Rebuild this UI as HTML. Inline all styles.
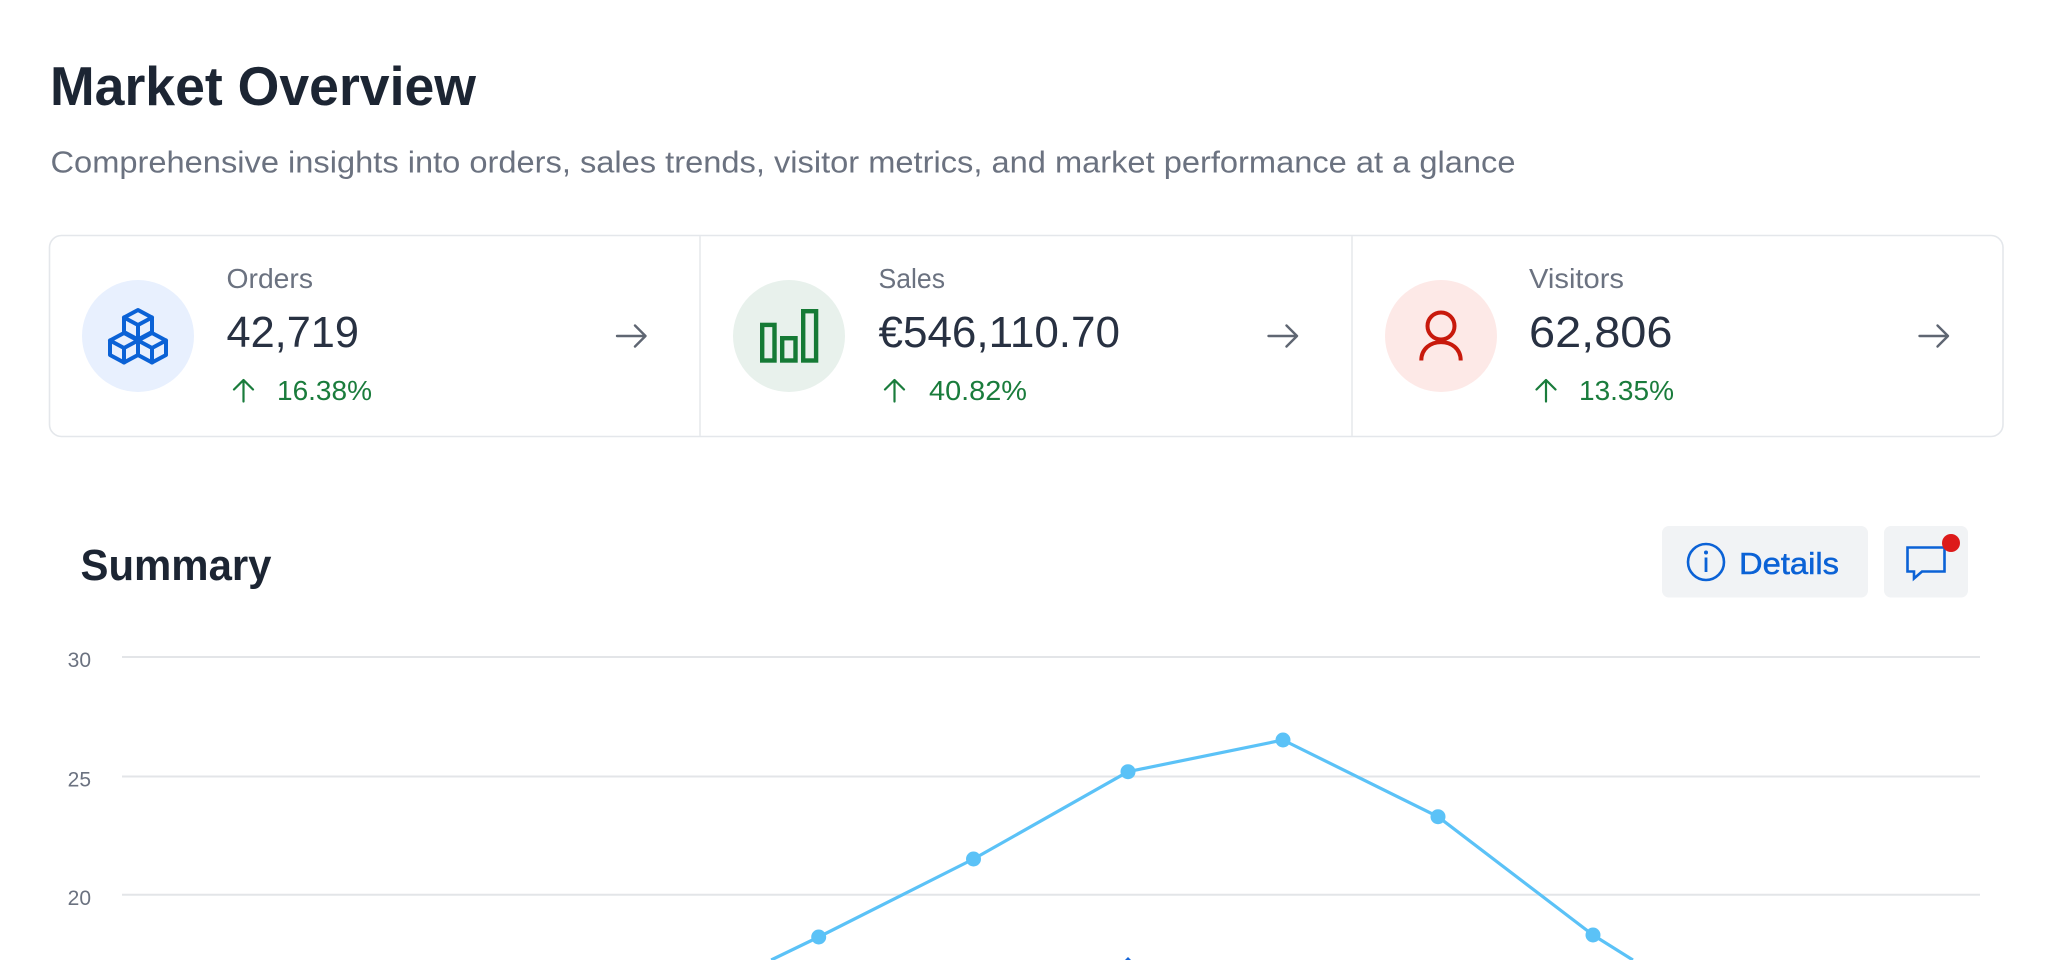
<!DOCTYPE html>
<html>
<head>
<meta charset="utf-8">
<style>
  html,body{margin:0;padding:0;background:#ffffff;}
  body{width:2048px;height:960px;overflow:hidden;}
  svg{display:block;}
  text{font-family:"Liberation Sans", Arial, sans-serif;}
</style>
</head>
<body>
<svg width="2048" height="960" viewBox="0 0 2048 960" xmlns="http://www.w3.org/2000/svg">
  <rect x="0" y="0" width="2048" height="960" fill="#ffffff"/>

  <!-- Header -->
  <text x="50" y="105" font-size="55" font-weight="700" fill="#1c2533" textLength="426" lengthAdjust="spacingAndGlyphs">Market Overview</text>
  <text x="50.5" y="172.5" font-size="31" fill="#6b7280" textLength="1465" lengthAdjust="spacingAndGlyphs">Comprehensive insights into orders, sales trends, visitor metrics, and market performance at a glance</text>

  <!-- Cards container -->
  <rect x="49.5" y="235.5" width="1953.5" height="201" rx="12" ry="12" fill="#ffffff" stroke="#e4e7eb" stroke-width="1.6"/>
  <line x1="700" y1="236" x2="700" y2="436" stroke="#e8eaed" stroke-width="1.6"/>
  <line x1="1352" y1="236" x2="1352" y2="436" stroke="#e8eaed" stroke-width="1.6"/>

  <!-- Card 1: Orders -->
  <circle cx="138" cy="336" r="56" fill="#e8f0fe"/>
  <g fill="#e8f0fe" stroke="#0b62d6" stroke-width="4" stroke-linejoin="round" stroke-linecap="round">
    <path d="M138,310 L152,317.5 L152,332 L138,339.5 L124,332 L124,317.5 Z"/>
    <path d="M124,317.5 L138,325 L152,317.5 M138,325 L138,339.5" fill="none"/>
    <path d="M124,333 L138,340.5 L138,355 L124,362.5 L110,355 L110,340.5 Z"/>
    <path d="M110,340.5 L124,348 L138,340.5 M124,348 L124,362.5" fill="none"/>
    <path d="M152,333 L166,340.5 L166,355 L152,362.5 L138,355 L138,340.5 Z"/>
    <path d="M138,340.5 L152,348 L166,340.5 M152,348 L152,362.5" fill="none"/>
  </g>
  <text x="226.5" y="288" font-size="28" fill="#6b7280" textLength="86.5" lengthAdjust="spacingAndGlyphs">Orders</text>
  <text x="226.5" y="347" font-size="43.5" fill="#283142" textLength="132.5" lengthAdjust="spacingAndGlyphs">42,719</text>
  <g stroke="#1a7c3c" stroke-width="2.2" fill="none" stroke-linecap="round" stroke-linejoin="round">
    <path d="M243.5,380 L243.5,401.5 M234,389.5 L243.5,380 L253,389.5"/>
  </g>
  <text x="277" y="400" font-size="28" fill="#1a7c3c" textLength="95" lengthAdjust="spacingAndGlyphs">16.38%</text>
  <g stroke="#5f6672" stroke-width="2.4" fill="none" stroke-linecap="round" stroke-linejoin="round">
    <path d="M617,336 L645,336 M635,325.5 L645.5,336 L635,346.5"/>
  </g>

  <!-- Card 2: Sales -->
  <circle cx="789" cy="336" r="56" fill="#e8f1ec"/>
  <g fill="none" stroke="#157a35" stroke-width="4.4">
    <rect x="762.2" y="324.9" width="12.3" height="35.6"/>
    <rect x="782.2" y="338.2" width="13.3" height="22.3"/>
    <rect x="803.2" y="311.2" width="12.9" height="49.3"/>
  </g>
  <text x="878.5" y="288" font-size="28" fill="#6b7280" textLength="66.5" lengthAdjust="spacingAndGlyphs">Sales</text>
  <text x="878.5" y="347" font-size="43.5" fill="#283142" textLength="241.5" lengthAdjust="spacingAndGlyphs">€546,110.70</text>
  <g stroke="#1a7c3c" stroke-width="2.2" fill="none" stroke-linecap="round" stroke-linejoin="round">
    <path d="M894.5,380 L894.5,401.5 M885,389.5 L894.5,380 L904,389.5"/>
  </g>
  <text x="929" y="400" font-size="28" fill="#1a7c3c" textLength="98" lengthAdjust="spacingAndGlyphs">40.82%</text>
  <g stroke="#5f6672" stroke-width="2.4" fill="none" stroke-linecap="round" stroke-linejoin="round">
    <path d="M1268.5,336 L1296.5,336 M1286.5,325.5 L1297,336 L1286.5,346.5"/>
  </g>

  <!-- Card 3: Visitors -->
  <circle cx="1441" cy="336" r="56" fill="#fde9e7"/>
  <g fill="none" stroke="#c8190c" stroke-width="4" stroke-linecap="butt">
    <circle cx="1441" cy="326" r="13.5"/>
    <path d="M1421.3,360.5 C1421.3,336 1460.7,336 1460.7,360.5"/>
  </g>
  <text x="1529" y="288" font-size="28" fill="#6b7280" textLength="95" lengthAdjust="spacingAndGlyphs">Visitors</text>
  <text x="1529" y="347" font-size="43.5" fill="#283142" textLength="143.5" lengthAdjust="spacingAndGlyphs">62,806</text>
  <g stroke="#1a7c3c" stroke-width="2.2" fill="none" stroke-linecap="round" stroke-linejoin="round">
    <path d="M1546,380 L1546,401.5 M1536.5,389.5 L1546,380 L1555.5,389.5"/>
  </g>
  <text x="1579" y="400" font-size="28" fill="#1a7c3c" textLength="95" lengthAdjust="spacingAndGlyphs">13.35%</text>
  <g stroke="#5f6672" stroke-width="2.4" fill="none" stroke-linecap="round" stroke-linejoin="round">
    <path d="M1919.5,336 L1947.5,336 M1937.5,325.5 L1948,336 L1937.5,346.5"/>
  </g>

  <!-- Summary header -->
  <text x="80.5" y="580" font-size="44" font-weight="700" fill="#1c2533" textLength="191" lengthAdjust="spacingAndGlyphs">Summary</text>

  <!-- Details button -->
  <rect x="1662" y="526" width="206" height="71.5" rx="7" ry="7" fill="#f1f3f5"/>
  <circle cx="1706" cy="562" r="18" fill="none" stroke="#0b62d6" stroke-width="2.6"/>
  <circle cx="1706" cy="552.5" r="2" fill="#0b62d6"/>
  <line x1="1706" y1="557.5" x2="1706" y2="572" stroke="#0b62d6" stroke-width="2.8"/>
  <text x="1739" y="574" font-size="31" fill="#0b62d6" stroke="#0b62d6" stroke-width="0.5" textLength="100" lengthAdjust="spacingAndGlyphs">Details</text>

  <!-- Chat button -->
  <rect x="1884" y="526" width="84" height="71.5" rx="7" ry="7" fill="#f1f3f5"/>
  <path d="M1907.5,547.5 H1944.5 V571.5 H1922 L1914,578.5 V571.5 H1907.5 Z" fill="none" stroke="#0b62d6" stroke-width="2.6" stroke-linejoin="miter"/>
  <circle cx="1951" cy="543" r="9" fill="#dd1a1a"/>

  <!-- Chart grid -->
  <g stroke="#e3e5e8" stroke-width="2">
    <line x1="122" y1="657" x2="1980" y2="657"/>
    <line x1="122" y1="776.5" x2="1980" y2="776.5"/>
    <line x1="122" y1="894.7" x2="1980" y2="894.7"/>
  </g>
  <g font-size="21" fill="#6b7280" text-anchor="end">
    <text x="91" y="667">30</text>
    <text x="91" y="786.5">25</text>
    <text x="91" y="905">20</text>
  </g>

  <!-- Dark blue series marker tip (clipped at frame edge) -->
  <path d="M1128,957 L1131,960 L1125,960 Z" fill="#1565d8"/>

  <!-- Light blue series (clipped at frame edge) -->
  <polyline points="771.2,960 818.7,937 973.5,859 1128,771.7 1283,740 1438,816.7 1593,935 1632.9,960"
            fill="none" stroke="#5bc2f7" stroke-width="3.2" stroke-linejoin="round"/>
  <g fill="#5bc2f7">
    <circle cx="818.7" cy="937" r="7.5"/>
    <circle cx="973.5" cy="859" r="7.5"/>
    <circle cx="1128" cy="771.7" r="7.5"/>
    <circle cx="1283" cy="740" r="7.5"/>
    <circle cx="1438" cy="816.7" r="7.5"/>
    <circle cx="1593" cy="935" r="7.5"/>
  </g>
</svg>
</body>
</html>
